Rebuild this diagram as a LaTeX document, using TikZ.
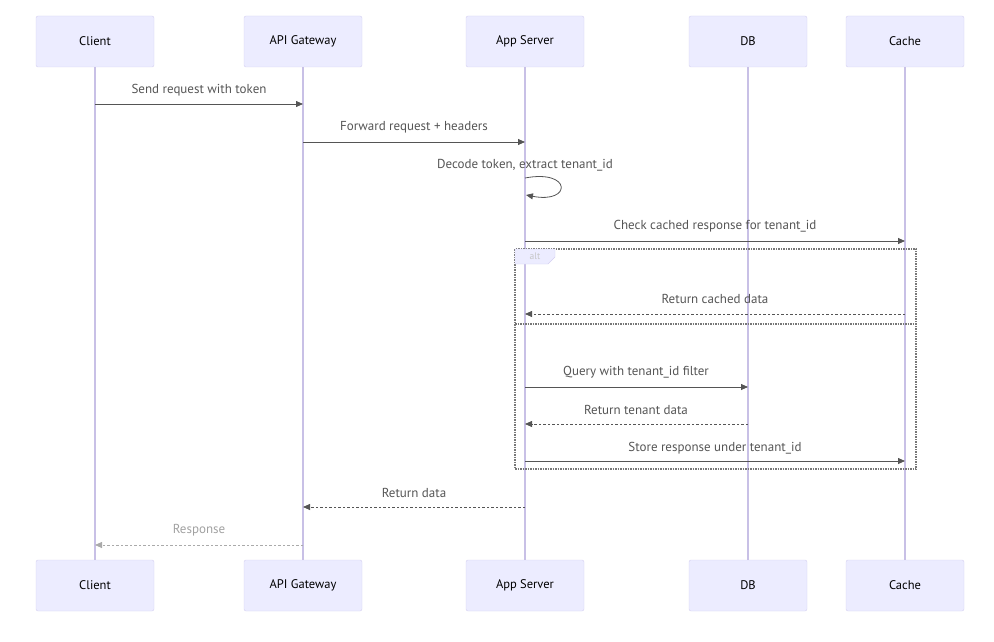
\documentclass[tikz,border=0pt]{standalone}
\usepackage{fontspec}
\setmainfont{PT Sans}
\usetikzlibrary{arrows.meta}
\definecolor{actfill}{HTML}{ECECFF}
\definecolor{actline}{HTML}{D4CFF0}
\definecolor{life}{HTML}{C8C0E6}
\definecolor{msg}{HTML}{555555}
\definecolor{msgtxt}{HTML}{555555}
\definecolor{altline}{HTML}{777777}
\tikzset{
  x=1pt,y=-1pt,
  actor/.style={draw=actline,fill=actfill,rounded corners=2pt,minimum width=118pt,minimum height=51pt,font=\fontsize{12.5}{14}\selectfont,inner sep=0pt},
  lifeline/.style={draw=life,line width=1.2pt},
  msgline/.style={draw=msg,line width=0.8pt,-{Triangle[length=7pt,width=6pt]}},
  replyline/.style={draw=msg,line width=0.8pt,dash pattern=on 2.5pt off 2pt,-{Triangle[length=7pt,width=6pt]}},
  msglabel/.style={font=\fontsize{13}{15}\selectfont,text=msgtxt,inner sep=0pt},
  altbox/.style={draw=altline,line width=1.3pt,dash pattern=on 1.5pt off 1pt},
}
\begin{document}
\begin{tikzpicture}
\useasboundingbox (0,0) rectangle (994,642);
% actors top
\node[actor] (ct) at (95,41.5) {Client};
\node[actor] (gt) at (303,41.5) {API Gateway};
\node[actor] (at) at (525,41.5) {App Server};
\node[actor] (dt) at (748,41.5) {DB};
\node[actor] (kt) at (905,41.5) {Cache};
% actors bottom
\node[actor] (cb) at (95,585.5) {Client};
\node[actor] (gb) at (303,585.5) {API Gateway};
\node[actor] (ab) at (525,585.5) {App Server};
\node[actor] (db) at (748,585.5) {DB};
\node[actor] (kb) at (905,585.5) {Cache};
% lifelines
\draw[lifeline] (ct.south) -- (cb.north);
\draw[lifeline] (gt.south) -- (gb.north);
\draw[lifeline] (at.south) -- (ab.north);
\draw[lifeline] (dt.south) -- (db.north);
\draw[lifeline] (kt.south) -- (kb.north);
% alt box
\draw[altbox] (515,249) rectangle (916,469);
\draw[altbox] (515,324) -- (916,324);
\filldraw[draw=actline,fill=actfill] (515,249) -- (555,249) -- (555,257) -- (548,264) -- (515,264) -- cycle;
\node[font=\fontsize{9.5}{10}\selectfont,text=white!55!gray,inner sep=0pt] (altlab) at (535,256.5) {alt};
% coordinates
\coordinate (m1a) at (95,104);  \coordinate (m1b) at (303,104);
\coordinate (m2a) at (303,142); \coordinate (m2b) at (525,142);
\coordinate (m3a) at (525,178); \coordinate (m3b) at (526,195);
\coordinate (m4a) at (525,241); \coordinate (m4b) at (905,241);
\coordinate (m5a) at (905,314); \coordinate (m5b) at (525,314);
\coordinate (m6a) at (525,387); \coordinate (m6b) at (748,387);
\coordinate (m7a) at (748,424); \coordinate (m7b) at (525,424);
\coordinate (m8a) at (525,461); \coordinate (m8b) at (905,461);
\coordinate (m9a) at (525,507); \coordinate (m9b) at (303,507);
\coordinate (m10a) at (303,545); \coordinate (m10b) at (95,545);
% messages
\draw[msgline] (m1a) -- (m1b);
\node[msglabel] (l1) at (199,90) {Send request with token};
\draw[msgline] (m2a) -- (m2b);
\node[msglabel] (l2) at (414,127) {Forward request + headers};
\draw[msgline] (m3a) .. controls (572,169) and (572,204) .. (m3b);
\node[msglabel] (l3) at (525,165) {Decode token, extract tenant\_id};
\draw[msgline] (m4a) -- (m4b);
\node[msglabel] (l4) at (715,226) {Check cached response for tenant\_id};
\draw[replyline] (m5a) -- (m5b);
\node[msglabel] (l5) at (715,299) {Return cached data};
\draw[msgline] (m6a) -- (m6b);
\node[msglabel] (l6) at (636,372) {Query with tenant\_id filter};
\draw[replyline] (m7a) -- (m7b);
\node[msglabel] (l7) at (636,410) {Return tenant data};
\draw[msgline] (m8a) -- (m8b);
\node[msglabel] (l8) at (715,448) {Store response under tenant\_id};
\draw[replyline] (m9a) -- (m9b);
\node[msglabel] (l9) at (414,493) {Return data};
\draw[replyline,draw=msg!50] (m10a) -- (m10b);
\node[msglabel,text=msgtxt!55] (l10) at (199,530) {Response};
\end{tikzpicture}
\end{document}
